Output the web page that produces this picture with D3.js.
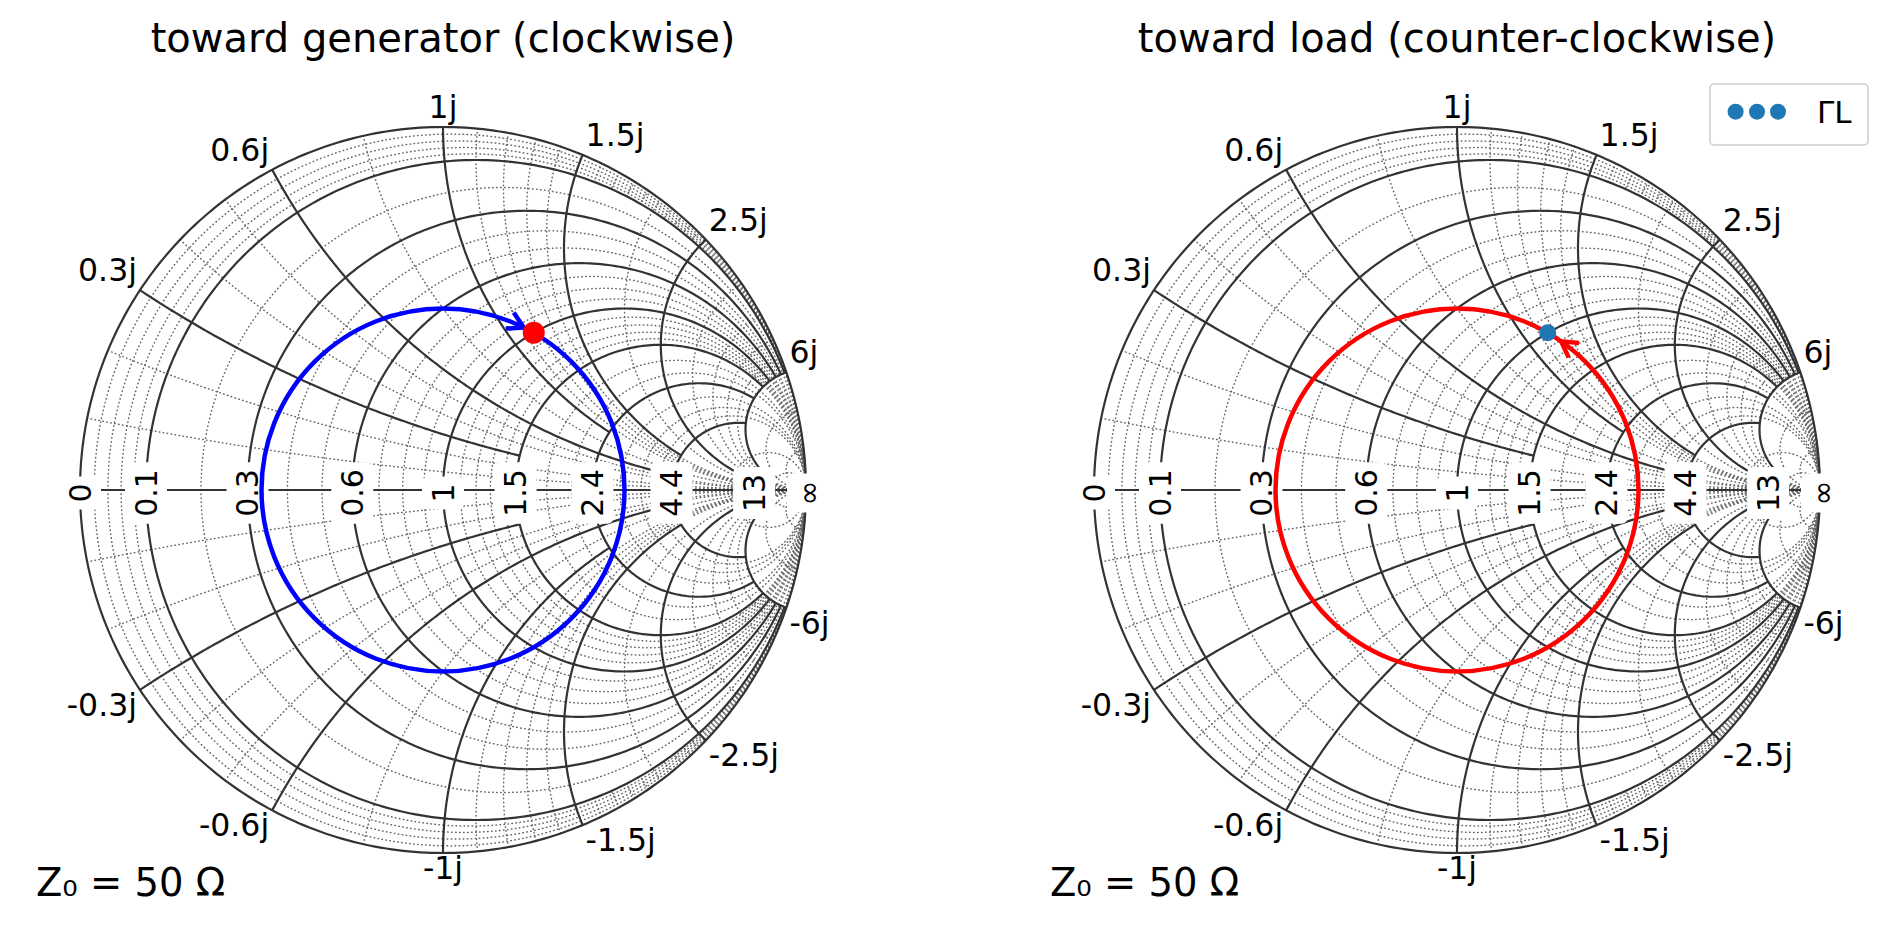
<!DOCTYPE html>
<html><head><meta charset="utf-8">
<script src="https://cdn.jsdelivr.net/npm/d3@7"></script>
<style>
html,body{margin:0;padding:0;background:#fff;}
svg{display:block;font-family:"DejaVu Sans",sans-serif;}
</style></head><body>
<svg id="chart" width="1900" height="933"></svg>
<script>
// ---------------- data ----------------
const resistanceTicks = [0, 0.1, 0.3, 0.6, 1, 1.5, 2.4, 4.4, 13, Infinity];
const resistanceLabels = ["0", "0.1", "0.3", "0.6", "1", "1.5", "2.4", "4.4", "13", "∞"];
const reactanceTicks = [0, 0.3, 0.6, 1, 1.5, 2.5, 6, Infinity];
const reactanceLabels = ["0.3j", "0.6j", "1j", "1.5j", "2.5j", "6j"];
// minor grid subdivisions per cell: rows = resistance intervals, cols = reactance intervals
const minorResistanceDiv = [
  [5, 5, 5, 5, 5, 5, 5],
  [2, 2, 2, 2, 2, 2, 2],
  [3, 3, 3, 3, 3, 3, 3],
  [4, 4, 4, 4, 4, 4, 4],
  [5, 5, 5, 5, 5, 5, 5],
  [3, 3, 3, 3, 3, 3, 3],
  [4, 4, 4, 4, 4, 4, 4],
  [2, 2, 2, 2, 2, 2, 2],
  [3, 3, 3, 3, 3, 3, 3]
];
const minorReactanceDiv = [
  [3, 3, 2, 5, 10, 5, 3],
  [3, 3, 2, 5, 2, 5, 3],
  [3, 3, 2, 5, 2, 5, 3],
  [3, 3, 2, 5, 2, 5, 3],
  [3, 3, 2, 5, 2, 5, 3],
  [3, 3, 2, 5, 2, 5, 3],
  [3, 3, 2, 5, 2, 5, 3],
  [3, 3, 2, 5, 2, 5, 3],
  [3, 3, 2, 5, 2, 5, 3]
];
const gammaLoad = { mag: 0.5, angleDeg: 60 };
const arrowTipDeg = [63.6, 55];
const panelTitles = ["toward generator (clockwise)", "toward load (counter-clockwise)"];
const pathColors = ["#0000ff", "#ff0000"];
const dotColors = ["#ff0000", "#1f77b4"];
const legendLabel = "ΓL";
const z0Label = "Z\u2080 = 50 Ω";

// ---------------- helpers ----------------
const svg = d3.select("#chart");
function gamma(r, x) {
  if (!isFinite(r) || !isFinite(x)) return [1, 0];
  const a = r - 1, c = r + 1, den = c * c + x * x;
  return [(a * c + x * x) / den, (x * c - a * x) / den];
}
function dist(p, q) { return Math.hypot(p[0] - q[0], p[1] - q[1]); }
function tanSafe(t) { return t >= Math.PI / 2 - 1e-12 ? Infinity : Math.tan(t); }
function atanSafe(v) { return isFinite(v) ? Math.atan(v) : (v > 0 ? Math.PI / 2 : -Math.PI / 2); }

function resistanceArc(r, x0, x1, n = 160) {
  const t0 = atanSafe(x0), t1 = atanSafe(x1);
  return d3.range(n + 1).map(i => gamma(r, tanSafe(t0 + (t1 - t0) * i / n)));
}
function reactanceArc(x, r0, r1, n = 160) {
  const t0 = atanSafe(r0), t1 = atanSafe(r1);
  return d3.range(n + 1).map(i => gamma(tanSafe(t0 + (t1 - t0) * i / n), x));
}
function subdivide(a, b, n, kind) {
  const out = [];
  for (let j = 1; j < n; j++) {
    if (isFinite(b)) out.push(a + (b - a) * j / n);
    else if (kind === "r") { const ga = (a - 1) / (a + 1); const g = ga + (1 - ga) * j / n; out.push((1 + g) / (1 - g)); }
    else { const ta = Math.atan(a); out.push(Math.tan(ta + (Math.PI / 2 - ta) * j / n)); }
  }
  return out;
}

function reactanceExtents() {
  const thr = 0.1;
  let tmp = reactanceTicks.filter(isFinite);
  const ext = {};
  for (const xs of resistanceTicks) {
    if (!isFinite(xs)) continue;
    let k = 1;
    while (k < tmp.length) {
      if (dist(gamma(xs, tmp[k - 1]), gamma(xs, tmp[k])) < thr) { ext[tmp[k]] = xs; tmp.splice(k, 1); }
      else k++;
    }
  }
  tmp.forEach(v => { if (!(v in ext)) ext[v] = Infinity; });
  return ext;
}
const xExt = reactanceExtents();
const finiteReactance = reactanceTicks.filter(v => isFinite(v) && v > 0);
const maxReactance = d3.max(finiteReactance);

function drawPanel(p, cx) {
  const cy = 490, R = 363;
  const sx = d3.scaleLinear().domain([-1, 1]).range([cx - R, cx + R]);
  const sy = d3.scaleLinear().domain([-1, 1]).range([cy + R, cy - R]);
  const line = d3.line().x(d => sx(d[0])).y(d => sy(d[1]));
  const g = svg.append("g");

  const gMinor = g.append("g").attr("fill", "none").attr("stroke", "#666")
    .attr("stroke-width", 1.5).attr("stroke-dasharray", "0.5,3.5").attr("stroke-linecap", "round");
  for (let i = 0; i < resistanceTicks.length - 1; i++) {
    const ra = resistanceTicks[i], rb = resistanceTicks[i + 1];
    for (let k = 0; k < reactanceTicks.length - 1; k++) {
      const xa = reactanceTicks[k], xb = reactanceTicks[k + 1];
      subdivide(ra, rb, minorResistanceDiv[i][k], "r").forEach(rv => {
        gMinor.append("path").attr("d", line(resistanceArc(rv, xa, xb, 60)));
        gMinor.append("path").attr("d", line(resistanceArc(rv, -xa, -xb, 60)));
      });
      subdivide(xa, xb, minorReactanceDiv[i][k], "x").forEach(xv => {
        gMinor.append("path").attr("d", line(reactanceArc(xv, ra, rb, 60)));
        gMinor.append("path").attr("d", line(reactanceArc(-xv, ra, rb, 60)));
      });
    }
  }

  const gMajor = g.append("g").attr("fill", "none").attr("stroke", "#333").attr("stroke-width", 2.2);
  gMajor.append("path").attr("d", line([[-1, 0], [1, 0]]));
  resistanceTicks.filter(isFinite).forEach(r => {
    const xe = r === 0 ? Infinity : maxReactance;
    gMajor.append("path").attr("d", line(resistanceArc(r, -xe, xe, 400)));
  });
  finiteReactance.forEach(x => {
    gMajor.append("path").attr("d", line(reactanceArc(x, 0, xExt[x])));
    gMajor.append("path").attr("d", line(reactanceArc(-x, 0, xExt[x])));
  });

  const gLab = g.append("g");
  resistanceTicks.forEach((r, i) => {
    const px = sx(gamma(r, 0)[0]) + (isFinite(r) ? 0 : 2);
    const t = gLab.append("g").attr("transform", `translate(${px},${cy + 3}) rotate(-90)`);
    const txt = t.append("text").attr("text-anchor", "middle").attr("dy", "0.36em")
      .attr("font-size", 30).attr("fill", "#000").text(resistanceLabels[i]);
    const L = txt.node().getComputedTextLength();
    t.insert("rect", "text").attr("x", -L / 2 - 7).attr("y", -21).attr("width", L + 14).attr("height", 42)
      .attr("rx", 6).attr("fill", "#fff");
  });

  finiteReactance.forEach((x, i) => {
    [1, -1].forEach(s => {
      const gp = gamma(0, s * x);
      const px = sx(gp[0]), py = sy(gp[1]);
      let anchor = "middle", dx = 0;
      if (gp[0] > 0.02) { anchor = "start"; dx = 3; } else if (gp[0] < -0.02) { anchor = "end"; dx = -3; }
      const by = s > 0 ? py - 9 : py + 26;
      g.append("text").attr("x", px + dx).attr("y", by).attr("text-anchor", anchor)
        .attr("font-size", 31.5).attr("fill", "#000").text((s < 0 ? "-" : "") + reactanceLabels[i]);
    });
  });

  const rad = sx(gammaLoad.mag) - sx(0);
  const pth = d3.path();
  pth.arc(cx, cy, rad, 0, 2 * Math.PI);
  g.append("path").attr("d", pth.toString()).attr("fill", "none").attr("stroke", pathColors[p]).attr("stroke-width", 4.5);
  const dir = p === 0 ? -1 : 1;
  const ta = arrowTipDeg[p] * Math.PI / 180;
  const tip = [sx(gammaLoad.mag * Math.cos(ta)), sy(gammaLoad.mag * Math.sin(ta))];
  const tv = [-Math.sin(ta) * dir, -Math.cos(ta) * dir];
  const back = Math.atan2(-tv[1], -tv[0]);
  const armL = 18, spread = 30 * Math.PI / 180;
  const arm1 = [tip[0] + armL * Math.cos(back + spread), tip[1] + armL * Math.sin(back + spread)];
  const arm2 = [tip[0] + armL * Math.cos(back - spread), tip[1] + armL * Math.sin(back - spread)];
  g.append("path").attr("d", `M${arm1[0]},${arm1[1]}L${tip[0]},${tip[1]}L${arm2[0]},${arm2[1]}`)
    .attr("fill", "none").attr("stroke", pathColors[p]).attr("stroke-width", 4.5).attr("stroke-linejoin", "miter");
  const la = gammaLoad.angleDeg * Math.PI / 180;
  g.append("circle").attr("cx", sx(gammaLoad.mag * Math.cos(la))).attr("cy", sy(gammaLoad.mag * Math.sin(la)))
    .attr("r", p === 0 ? 11 : 8.5).attr("fill", dotColors[p]);

  g.append("text").attr("x", cx).attr("y", 52).attr("text-anchor", "middle").attr("font-size", 40).text(panelTitles[p]);
  g.append("text").attr("x", cx - 407).attr("y", 896).attr("font-size", 38.5).text(z0Label);
}

drawPanel(0, 443);
drawPanel(1, 1457);

const lg = svg.append("g");
lg.append("rect").attr("x", 1710).attr("y", 84).attr("width", 158).attr("height", 61).attr("rx", 4)
  .attr("fill", "#fff").attr("stroke", "#cccccc").attr("stroke-width", 1.5);
[1735.6, 1757, 1778].forEach(x => lg.append("circle").attr("cx", x).attr("cy", 111.7).attr("r", 8).attr("fill", dotColors[1]));
lg.append("text").attr("x", 1817).attr("y", 123).attr("font-size", 31).text(legendLabel);
</script>
</body></html>
